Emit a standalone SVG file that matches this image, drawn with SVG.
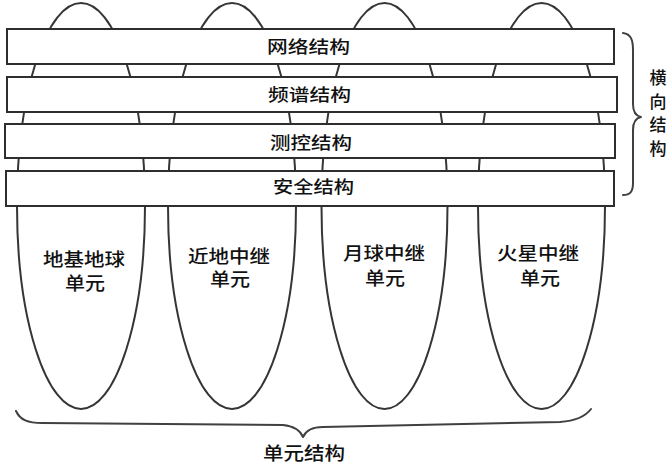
<svg xmlns="http://www.w3.org/2000/svg" width="671" height="466" viewBox="0 0 671 466">
  <style>
    .unit { fill: none; stroke: #353535; stroke-width: 2; }
    .bar { fill: #ffffff; stroke: #2e2e2e; stroke-width: 2; }
    .brace { fill: none; stroke: #404040; stroke-width: 2; stroke-linecap: round; stroke-linejoin: round; }
    .t { font-family: "Noto Sans CJK SC", "Noto Sans", sans-serif; fill: #111111; font-weight: 500; dominant-baseline: central; }
    .bt { font-size: 17px; }
    .ut { font-size: 18px; }
    .vt { font-size: 17px; }
  </style>
  <rect x="0" y="0" width="671" height="466" fill="#ffffff"/>

  <g id="unit-ground">
    <ellipse class="unit" cx="81" cy="206" rx="64" ry="203"/>
  </g>
  <g id="unit-near-earth">
    <ellipse class="unit" cx="232" cy="206" rx="64" ry="203"/>
  </g>
  <g id="unit-lunar">
    <ellipse class="unit" cx="384.5" cy="206" rx="63" ry="203"/>
  </g>
  <g id="unit-mars">
    <ellipse class="unit" cx="541.5" cy="206" rx="63.5" ry="203"/>
  </g>

  <g id="layer-network">
    <rect class="bar" x="7" y="29" width="607" height="35"/>
    <text class="t bt" x="267" y="45.5" textLength="83" lengthAdjust="spacingAndGlyphs">网络结构</text>
  </g>
  <g id="layer-spectrum">
    <rect class="bar" x="7" y="77" width="610" height="35"/>
    <text class="t bt" x="268" y="93.5" textLength="83" lengthAdjust="spacingAndGlyphs">频谱结构</text>
  </g>
  <g id="layer-ttc">
    <rect class="bar" x="5" y="124" width="610" height="34"/>
    <text class="t bt" x="270" y="141" textLength="82" lengthAdjust="spacingAndGlyphs">测控结构</text>
  </g>
  <g id="layer-security">
    <rect class="bar" x="6" y="171" width="608" height="35"/>
    <text class="t bt" x="273" y="185.5" textLength="81" lengthAdjust="spacingAndGlyphs">安全结构</text>
  </g>

  <g id="unit-labels">
    <text class="t ut" x="43" y="257.5" textLength="82" lengthAdjust="spacingAndGlyphs">地基地球</text>
    <text class="t ut" x="65" y="282" textLength="40" lengthAdjust="spacingAndGlyphs">单元</text>
    <text class="t ut" x="188" y="254.5" textLength="82" lengthAdjust="spacingAndGlyphs">近地中继</text>
    <text class="t ut" x="210" y="278" textLength="40" lengthAdjust="spacingAndGlyphs">单元</text>
    <text class="t ut" x="343" y="251.5" textLength="82" lengthAdjust="spacingAndGlyphs">月球中继</text>
    <text class="t ut" x="365" y="276.5" textLength="40" lengthAdjust="spacingAndGlyphs">单元</text>
    <text class="t ut" x="497" y="251.5" textLength="82" lengthAdjust="spacingAndGlyphs">火星中继</text>
    <text class="t ut" x="520" y="276.5" textLength="40" lengthAdjust="spacingAndGlyphs">单元</text>
  </g>

  <g id="connectors">
    <path class="brace" d="M623,33 C631,34 633,40 633,50 L633,104 C633,112 636,116 641,117 C636,118 633,122 633,130 L633,183 C633,192 630,195 623,195"/>
    <path class="brace" d="M16,411 C20,420 28,423 42,423 L283,425 C293,426 300,430 303,437 C306,430 313,427 323,427 L560,422 C574,421 585,417 591,409"/>
  </g>

  <g id="label-horizontal">
    <text class="t vt" x="658" y="76.5" text-anchor="middle">横</text>
    <text class="t vt" x="658" y="100" text-anchor="middle">向</text>
    <text class="t vt" x="658" y="123.5" text-anchor="middle">结</text>
    <text class="t vt" x="658" y="147" text-anchor="middle">构</text>
  </g>
  <g id="label-unit">
    <text class="t ut" x="263" y="452" textLength="82" lengthAdjust="spacingAndGlyphs">单元结构</text>
  </g>
</svg>
